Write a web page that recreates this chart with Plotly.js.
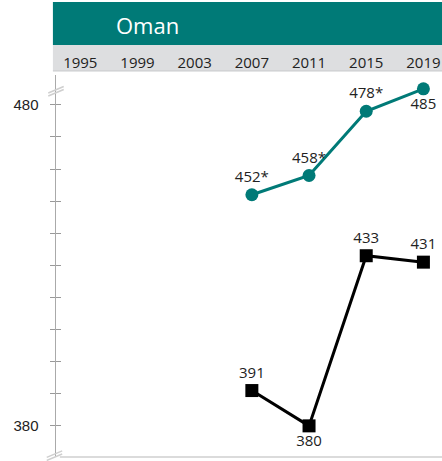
<!DOCTYPE html>
<html>
<head>
<meta charset="utf-8">
<script src="https://cdn.plot.ly/plotly-3.0.1.min.js"></script>
<style>
  html, body { margin: 0; padding: 0; background: #fff; }
  #plotArea { width: 442px; height: 461px; }
</style>
</head>
<body>
<div id="plotArea"></div>
<script>
// years on the top band
var yearTicks = [1995, 1999, 2003, 2007, 2011, 2015, 2019];

// teal series (with * marks)
var tealYears = [2007, 2011, 2015, 2019];
var tealScores = [452, 458, 478, 485];
var tealLabels = ["452*", "458*", "478*", "485"];

// black series
var blackYears = [2007, 2011, 2015, 2019];
var blackScores = [391, 380, 433, 431];
var blackLabels = ["391", "380", "433", "431"];

// y ticks
var yTickVals = [380, 390, 400, 410, 420, 430, 440, 450, 460, 470, 480];
var yTickText = ["380", "", "", "", "", "", "", "", "", "", "480"];

var teal = "#007a77";
var labelFont = {family: "Open Sans, sans-serif", size: 15, color: "#222"};

var tealTrace = {
    x: tealYears, y: tealScores, text: tealLabels,
    mode: "lines+markers+text",
    type: "scatter",
    line: {color: teal, width: 3},
    marker: {color: teal, size: 13, symbol: "circle"},
    textposition: ["top center", "top center", "top center", "bottom center"],
    textfont: labelFont,
    cliponaxis: false,
    hoverinfo: "skip"
};

var blackTrace = {
    x: blackYears, y: blackScores, text: blackLabels,
    mode: "lines+markers+text",
    type: "scatter",
    line: {color: "#000", width: 3},
    marker: {color: "#000", size: 13, symbol: "square"},
    textposition: ["top center", "bottom center", "top center", "top center"],
    textfont: labelFont,
    cliponaxis: false,
    hoverinfo: "skip"
};

// plot area is 56..442 px wide, 75..457 px tall
var layout = {
    width: 442, height: 461,
    margin: {l: 56, r: 0, t: 75, b: 4},
    paper_bgcolor: "#fff", plot_bgcolor: "#fff",
    showlegend: false,
    xaxis: {
        range: [1993.3, 2020.3],
        side: "top",
        tickvals: yearTicks,
        ticks: "",
        showgrid: false, zeroline: false, showline: false,
        tickfont: {family: "Open Sans, sans-serif", size: 15, color: "#222"},
        ticklabelstandoff: 3
    },
    yaxis: {
        range: [370.3, 489.3],
        tickvals: yTickVals, ticktext: yTickText,
        ticks: "outside", ticklen: 5, tickcolor: "#999", tickwidth: 1,
        showline: true, linecolor: "#aaa", linewidth: 1.5,
        showgrid: false, zeroline: false,
        tickfont: {family: "Liberation Sans, Arial, sans-serif", size: 15, color: "#222"},
        ticklabelstandoff: 8
    },
    yaxis2: {
        range: [370.3, 489.3], overlaying: "y",
        tickvals: yTickVals,
        ticks: "inside", ticklen: 5, tickcolor: "#999", tickwidth: 1,
        showticklabels: false, showgrid: false, zeroline: false, showline: false
    },
    shapes: [
        // teal header band
        {type: "rect", xref: "paper", yref: "paper", x0: -0.008, x1: 1, y0: 1.0785, y1: 1.191,
         fillcolor: teal, line: {width: 0}, layer: "below"},
        // grey year band
        {type: "rect", xref: "paper", yref: "paper", x0: -0.008, x1: 1, y0: 1.0105, y1: 1.0785,
         fillcolor: "#dddee0", line: {width: 0}, layer: "below"},
        {type: "line", xref: "paper", yref: "paper", x0: -0.008, x1: 1, y0: 1.0105, y1: 1.0105,
         line: {color: "#c8c9cb", width: 1}},
        // bottom baseline
        {type: "line", xref: "paper", yref: "paper", x0: 0.01, x1: 1, y0: 0.0, y1: 0.0,
         line: {color: "#cfcfcf", width: 1.5}},
        // axis break marks, top
        {type: "line", xref: "paper", yref: "paper", x0: -0.02, x1: 0.02, y0: 0.953, y1: 0.970,
         line: {color: "#cfcfcf", width: 1.5}},
        {type: "line", xref: "paper", yref: "paper", x0: -0.02, x1: 0.02, y0: 0.945, y1: 0.962,
         line: {color: "#cfcfcf", width: 1.5}},
        // axis break marks, bottom
        {type: "line", xref: "paper", yref: "paper", x0: -0.024, x1: 0.016, y0: -0.001, y1: 0.016,
         line: {color: "#cfcfcf", width: 1.5}},
        {type: "line", xref: "paper", yref: "paper", x0: -0.024, x1: 0.016, y0: -0.009, y1: 0.008,
         line: {color: "#cfcfcf", width: 1.5}}
    ],
    annotations: [
        {text: "Oman", xref: "paper", yref: "paper", x: 0.236, y: 1.131,
         xanchor: "center", yanchor: "middle", showarrow: false,
         font: {family: "Open Sans, sans-serif", size: 22, color: "#fff"}}
    ]
};

Plotly.newPlot("plotArea", [tealTrace, blackTrace,
    {x: [], y: [], yaxis: "y2", type: "scatter", hoverinfo: "skip"}], layout, {staticPlot: true});
</script>
</body>
</html>
